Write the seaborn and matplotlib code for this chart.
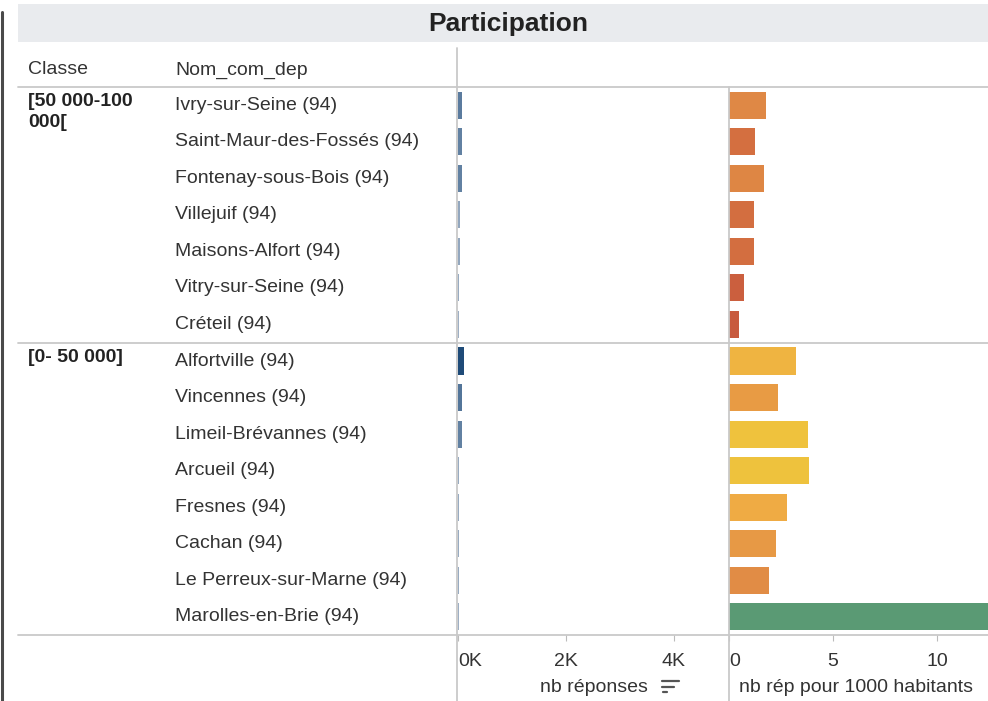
import matplotlib
matplotlib.use("Agg")
import matplotlib.pyplot as plt
import matplotlib.transforms as mtransforms
from matplotlib.colors import LinearSegmentedColormap, Normalize, to_hex
from matplotlib.lines import Line2D
from matplotlib.patches import Rectangle
import pandas as pd
import seaborn as sns

# ===== DATA =====
classes = ["[50 000-100\n000[", "[0- 50 000]"]
class_sizes = [7, 8]

communes = [
    "Ivry-sur-Seine (94)", "Saint-Maur-des-Fossés (94)", "Fontenay-sous-Bois (94)",
    "Villejuif (94)", "Maisons-Alfort (94)", "Vitry-sur-Seine (94)", "Créteil (94)",
    "Alfortville (94)", "Vincennes (94)", "Limeil-Brévannes (94)", "Arcueil (94)",
    "Fresnes (94)", "Cachan (94)", "Le Perreux-sur-Marne (94)", "Marolles-en-Brie (94)",
]
nb_reponses = [75, 70, 70, 30, 30, 25, 20, 115, 80, 70, 25, 25, 25, 25, 20]
nb_rep_1000 = [1.8, 1.25, 1.7, 1.2, 1.2, 0.7, 0.5, 3.2, 2.35, 3.8, 3.85, 2.8, 2.25, 1.9, 14.0]

left_ticks = [0, 2000, 4000]
left_tick_labels = ["0K", "2K", "4K"]
right_ticks = [0, 5, 10]
right_tick_labels = ["0", "5", "10"]

df = pd.DataFrame({"commune": communes, "nb": nb_reponses, "ratio": nb_rep_1000})

# ===== STYLE =====
sns.set_theme(style="white")
plt.rcParams["font.family"] = ["Liberation Sans", "DejaVu Sans"]
TXT = "#333333"
LINE = "#c9c9c9"

W, H = 988, 701
fig = plt.figure(figsize=(W / 100, H / 100), dpi=100)


def fx(px):
    return px / W


def fy(py):
    return 1 - py / H


top, bottom = 87, 635
x0, xm, x1 = 458, 729, 988
ax1 = fig.add_axes([fx(x0), fy(bottom), fx(xm - x0), (bottom - top) / H])
ax2 = fig.add_axes([fx(xm), fy(bottom), fx(x1 - xm), (bottom - top) / H])

# colours driven by the values
blue_cmap = LinearSegmentedColormap.from_list("bl", ["#b3bfcf", "#7590ae", "#1f4b78"])
blue_norm = Normalize(0, max(nb_reponses))
blue_pal = {c: to_hex(blue_cmap(blue_norm(v))) for c, v in zip(communes, nb_reponses)}

warm_cmap = LinearSegmentedColormap.from_list(
    "rg",
    [(0.0, "#c04e3a"), (0.5 / 14, "#c85a3e"), (1.2 / 14, "#d46f40"),
     (1.8 / 14, "#e08a45"), (2.8 / 14, "#efab44"), (3.8 / 14, "#efc23d"),
     (7 / 14, "#b5b655"), (1.0, "#5a9a74")],
)
warm_norm = Normalize(0, 14)
warm_pal = {c: to_hex(warm_cmap(warm_norm(v))) for c, v in zip(communes, nb_rep_1000)}

sns.barplot(data=df, y="commune", x="nb", hue="commune", palette=blue_pal,
            legend=False, width=0.74, linewidth=0, saturation=1, ax=ax1)
sns.barplot(data=df, y="commune", x="ratio", hue="commune", palette=warm_pal,
            legend=False, width=0.74, linewidth=0, saturation=1, ax=ax2)

ax1.set_xlim(0, 5020)
ax2.set_xlim(0, 12.45)

for ax, ticks, labels, xlabel, xc in [
    (ax1, left_ticks, left_tick_labels, "nb réponses", 0.5),
    (ax2, right_ticks, right_tick_labels, "nb rép pour 1000 habitants", 0.49),
]:
    ax.set_facecolor("white")
    for s in ax.spines.values():
        s.set_visible(False)
    ax.set_yticks([])
    ax.set_ylabel("")
    ax.set_xticks(ticks)
    ax.set_xticklabels(labels)
    ax.tick_params(axis="x", bottom=True, length=4, width=0.8, color="#bbbbbb",
                   pad=9, labelsize=14, labelcolor=TXT)
    ax.get_xticklabels()[0].set_ha("left")
    ax.set_xlabel(xlabel, fontsize=14, color=TXT)
    ax.xaxis.set_label_coords(xc, -(688 - bottom) / (bottom - top))
    ax.xaxis.label.set_va("center")

# ===== LABEL COLUMNS =====
trans = mtransforms.blended_transform_factory(fig.transFigure, ax1.transData)
for i, name in enumerate(communes):
    fig.text(fx(175), i, name, transform=trans, ha="left", va="center",
             fontsize=14, color=TXT)

start = 0
for cls, n in zip(classes, class_sizes):
    fig.text(fx(28), start - 0.5 + 0.16, cls, transform=trans, ha="left", va="top",
             fontsize=14, fontweight="bold", color="#222222", linespacing=1.35)
    if start > 0:
        fig.add_artist(Line2D([fx(18), fx(988)], [start - 0.5, start - 0.5],
                              transform=trans, color=LINE, lw=1.3))
    start += n

fig.text(fx(28), fy(70), "Classe", ha="left", va="center", fontsize=14, color=TXT)
fig.text(fx(175), fy(70), "Nom_com_dep", ha="left", va="center", fontsize=14, color=TXT)

# ===== TITLE BAR =====
fig.add_artist(Rectangle((fx(18), fy(42)), fx(988 - 18), (42 - 4) / H,
                         transform=fig.transFigure, color="#e9ebee", lw=0))
fig.text(fx(508), fy(24), "Participation", ha="center", va="center",
         fontsize=19, fontweight="bold", color="#222222")

# ===== GRID LINES =====
fig.add_artist(Line2D([fx(18), fx(988)], [fy(top), fy(top)], color=LINE, lw=1.3))
fig.add_artist(Line2D([fx(18), fx(988)], [fy(bottom), fy(bottom)], color=LINE, lw=1.3))
fig.add_artist(Line2D([fx(457), fx(457)], [fy(48), 0], color=LINE, lw=1.3))
fig.add_artist(Line2D([fx(xm), fx(xm)], [fy(top), 0], color=LINE, lw=1.3))
fig.add_artist(Line2D([fx(2), fx(2)], [fy(12), 0], color="#4a4a4a", lw=2.2))

# sort icon next to the axis title
for xa, xb, yy in [(662, 679, 681), (662, 674, 686.5), (663, 667, 692)]:
    fig.add_artist(Line2D([fx(xa), fx(xb)], [fy(yy), fy(yy)], color="#555555", lw=1.6))

fig.savefig("out.png", dpi=100, facecolor="white")
